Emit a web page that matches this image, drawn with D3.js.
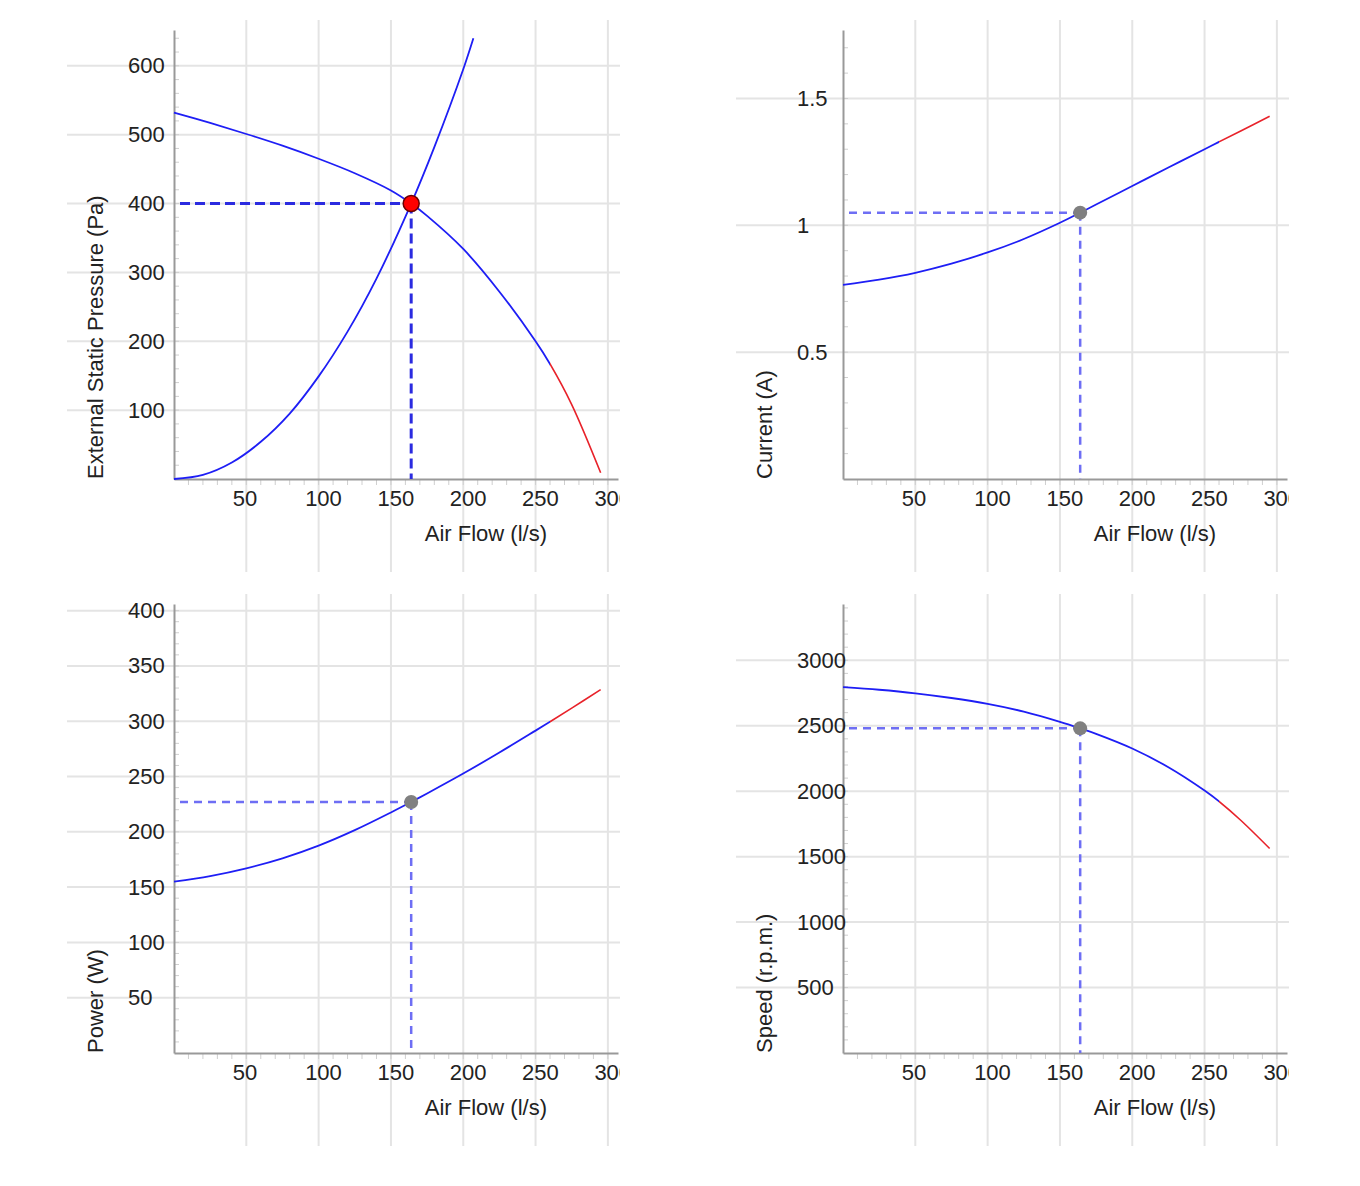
<!DOCTYPE html>
<html>
<head>
<meta charset="utf-8">
<script src="https://cdn.jsdelivr.net/npm/d3@7"></script>
<style>
  html, body { margin: 0; padding: 0; background: #ffffff; }
  body { width: 1360px; height: 1186px; position: relative; overflow: hidden; }
  svg.panel { position: absolute; overflow: hidden; }
  text { font-family: "Liberation Sans", Arial, Helvetica, sans-serif; fill: #222; }
</style>
</head>
<body>
<script>
// ---------------- DATA ----------------
const xTicks = [50, 100, 150, 200, 250, 300];
const xLabel = "Air Flow (l/s)";

// common flow points (l/s) at which the fan curves were read
const flows = [0, 25, 50, 75, 100, 125, 150, 164, 175, 200, 225, 250, 260, 275, 295];

// fan pressure curve (Pa)
const fanPressure = [532, 517, 501, 484, 465, 444, 419, 400, 382, 334, 272, 200, 167, 108, 9];
// system curve
const systemFlows    = [0, 20, 40, 60, 80, 100, 120, 140, 164, 180, 200, 207];
const systemPressure = [0, 6, 24, 54, 95, 149, 214, 291, 400, 482, 595, 640];
// current (A)
const currentValues = [0.765, 0.786, 0.813, 0.849, 0.893, 0.946, 1.010, 1.050, 1.082, 1.155, 1.228, 1.300, 1.329, 1.372, 1.430];
// power (W)
const powerValues = [155, 160, 167, 176, 187.5, 201.5, 217.5, 227, 234.7, 252.7, 271.7, 291.5, 299.5, 311.8, 328.6];
// speed (r.p.m.)
const speedValues = [2795, 2775, 2748, 2712, 2667, 2608, 2530, 2480, 2438, 2326, 2183, 2005, 1922, 1778, 1562];

// operating point
const opFlow = 164;
const opPressure = 400;
const opCurrent = 1.05;
const opPower = 227;
const opSpeed = 2480;

// flow beyond which the curve is drawn red
const redFrom = 260;

// tick values
const pressureTicks = [100, 200, 300, 400, 500, 600];
const currentTicks  = [0.5, 1, 1.5];
const powerTicks    = [50, 100, 150, 200, 250, 300, 350, 400];
const speedTicks    = [500, 1000, 1500, 2000, 2500, 3000];

// axis maxima
const xMax = 307;
const pressureMax = 652, currentMax = 1.77, powerMax = 406, speedMax = 3430;

// ---------------- LAYOUT ----------------
const W = 553, H = 552;
const m = { left: 107, top: 10 };
const pw = 444, ph = 449;

const panels = [
  { id: "p0", left: 67,  top: 20,  yMax: pressureMax, ticks: pressureTicks, minor: 20,  label: "External Static Pressure (Pa)",
    values: fanPressure, op: opPressure, main: true },
  { id: "p1", left: 736, top: 20,  yMax: currentMax,  ticks: currentTicks,  minor: 0.1, label: "Current (A)",
    values: currentValues, op: opCurrent, main: false },
  { id: "p2", left: 67,  top: 594, yMax: powerMax,    ticks: powerTicks,    minor: 10,  label: "Power (W)",
    values: powerValues, op: opPower, main: false },
  { id: "p3", left: 736, top: 594, yMax: speedMax,    ticks: speedTicks,    minor: 100, label: "Speed (r.p.m.)",
    values: speedValues, op: opSpeed, main: false },
];

const FONT = 22;
const FAMILY = '"Liberation Sans", Arial, Helvetica, sans-serif';
const gridColor = "#e4e4e4";
const axisColor = "#999999";
const blue = "#1e1ef5";
const red = "#e8222a";

panels.forEach(p => {
  const svg = d3.select("body").append("svg")
    .attr("class", "panel")
    .attr("width", W).attr("height", H)
    .style("left", p.left + "px").style("top", p.top + "px");

  const x = d3.scaleLinear().domain([0, xMax]).range([m.left, m.left + pw]);
  const y = d3.scaleLinear().domain([0, p.yMax]).range([m.top + ph, m.top]);

  // clip regions for blue / red parts of the fan curve
  const defs = svg.append("defs");
  defs.append("clipPath").attr("id", p.id + "-blue").append("rect")
    .attr("x", 0).attr("y", 0).attr("width", x(redFrom)).attr("height", H);
  defs.append("clipPath").attr("id", p.id + "-red").append("rect")
    .attr("x", x(redFrom)).attr("y", 0).attr("width", W - x(redFrom)).attr("height", H);

  // grid
  svg.append("g").selectAll("line").data(xTicks).join("line")
    .attr("x1", d => x(d)).attr("x2", d => x(d))
    .attr("y1", 0).attr("y2", H)
    .attr("stroke", gridColor).attr("stroke-width", 2);
  svg.append("g").selectAll("line").data(p.ticks).join("line")
    .attr("x1", 0).attr("x2", W)
    .attr("y1", d => y(d)).attr("y2", d => y(d))
    .attr("stroke", gridColor).attr("stroke-width", 2);

  // minor ticks
  const yMinor = d3.range(p.minor, p.yMax, p.minor);
  svg.append("g").selectAll("line").data(yMinor).join("line")
    .attr("x1", m.left).attr("x2", m.left + 5)
    .attr("y1", d => y(d)).attr("y2", d => y(d))
    .attr("stroke", "#cfcfcf").attr("stroke-width", 1);
  const xMinor = d3.range(10, xMax, 10);
  svg.append("g").selectAll("line").data(xMinor).join("line")
    .attr("x1", d => x(d)).attr("x2", d => x(d))
    .attr("y1", m.top + ph).attr("y2", m.top + ph + 6)
    .attr("stroke", "#cfcfcf").attr("stroke-width", 1);

  // axes
  const xAxis = svg.append("g")
    .attr("transform", `translate(0,${m.top + ph})`)
    .call(d3.axisBottom(x).tickValues(xTicks).tickSize(0).tickPadding(11).tickFormat(d => String(d)));
  xAxis.select(".domain").attr("stroke", axisColor).attr("stroke-width", 2);
  xAxis.selectAll("text").attr("font-size", FONT).attr("text-anchor", "start").attr("x", -14)
    .style("font-family", FAMILY).attr("fill", "#222");

  const yAxis = svg.append("g")
    .attr("transform", `translate(${m.left},0)`)
    .call(d3.axisLeft(y).tickValues(p.ticks).tickSize(0).tickFormat(d => String(d)));
  yAxis.select(".domain").attr("stroke", axisColor).attr("stroke-width", 2);
  yAxis.selectAll("text").attr("font-size", FONT).attr("text-anchor", "start").attr("x", -46)
    .style("font-family", FAMILY).attr("fill", "#222");

  // axis labels
  svg.append("text").attr("x", m.left + 373).attr("y", m.top + ph + 62)
    .attr("text-anchor", "end").attr("font-size", FONT).text(xLabel);
  svg.append("text")
    .attr("transform", `translate(${m.left - 71},${m.top + ph}) rotate(-90)`)
    .attr("text-anchor", "start").attr("font-size", FONT).text(p.label);

  // curves
  const pts = flows.map((f, i) => [f, p.values[i]]);
  const line = d3.line().x(d => x(d[0])).y(d => y(d[1])).curve(d3.curveCatmullRom.alpha(0.5));

  // dashed guides
  const dashColor = p.main ? "#2b2be0" : "#6e6ef4";
  const dashW = p.main ? 3 : 2.5;
  const dashA = p.main ? "10,5" : "8,6";
  svg.append("line")
    .attr("x1", x(0) + 6).attr("x2", x(opFlow))
    .attr("y1", y(p.op)).attr("y2", y(p.op))
    .attr("stroke", dashColor).attr("stroke-width", dashW).attr("stroke-dasharray", dashA);
  svg.append("line")
    .attr("x1", x(opFlow)).attr("x2", x(opFlow))
    .attr("y1", y(p.op)).attr("y2", y(0))
    .attr("stroke", dashColor).attr("stroke-width", dashW).attr("stroke-dasharray", dashA);

  if (p.main) {
    const sys = systemFlows.map((f, i) => [f, systemPressure[i]]);
    svg.append("path").datum(sys).attr("d", line)
      .attr("fill", "none").attr("stroke", blue).attr("stroke-width", 1.8);
  }
  svg.append("path").datum(pts).attr("d", line)
    .attr("clip-path", `url(#${p.id}-blue)`)
    .attr("fill", "none").attr("stroke", blue).attr("stroke-width", 1.8);
  svg.append("path").datum(pts).attr("d", line)
    .attr("clip-path", `url(#${p.id}-red)`)
    .attr("fill", "none").attr("stroke", red).attr("stroke-width", 1.6);

  // operating point
  svg.append("circle")
    .attr("cx", x(opFlow)).attr("cy", y(p.op))
    .attr("r", p.main ? 8 : 7)
    .attr("fill", p.main ? "#ff0000" : "#808080")
    .attr("stroke", p.main ? "#6a0000" : "none")
    .attr("stroke-width", p.main ? 1.5 : 0);
});
</script>
</body>
</html>
